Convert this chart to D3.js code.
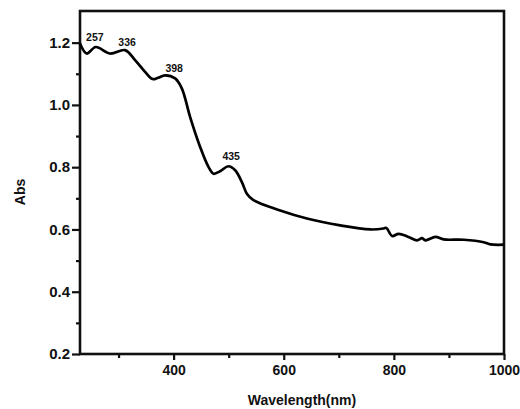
<!DOCTYPE html>
<html><head><meta charset="utf-8">
<script src="https://cdn.jsdelivr.net/npm/d3@7"></script>
<style>body{margin:0;background:#fff}svg{display:block}text{font-family:"Liberation Sans",Arial,sans-serif;font-weight:bold;fill:#111}</style>
</head><body>
<svg id="c" width="520" height="409"></svg>
<script>
const wavelength = [230,242.2,258.5,284.5,311.8,330,348.2,361.5,371.8,384.5,402.7,414.9,430,448.2,463.3,472.4,484.5,499.6,511.8,524,533,545,593.6,642.2,702.7,757.3,781.4,786.4,796.7,808.7,826.4,842.1,851.3,857.3,875.5,890.5,926.9,963.3,975.5,1000];
const absorbance = [1.197,1.165,1.186,1.165,1.176,1.144,1.106,1.083,1.087,1.095,1.085,1.053,0.961,0.865,0.801,0.779,0.787,0.803,0.790,0.752,0.715,0.694,0.661,0.635,0.613,0.600,0.603,0.605,0.579,0.586,0.576,0.565,0.572,0.565,0.576,0.568,0.567,0.559,0.552,0.551];
const peakLabels = ["257","336","398","435"];
const peakLabelX = [257,315.5,401,504.5];
const peakLabelY = [1.205,1.189,1.105,0.822];
const xTicks = [400,600,800,1000];
const xMinor = [300,500,700,900];
const yTicks = [0.2,0.4,0.6,0.8,1.0,1.2];
const yMinor = [0.3,0.5,0.7,0.9,1.1];

const svg = d3.select("#c");
const L=80,R=504,T=11,B=354;
const x = d3.scaleLinear().domain([230,1000]).range([L,R]);
const y = d3.scaleLinear().domain([0.2,1.3016]).range([B,T]);

const xAx = svg.append("g").attr("transform",`translate(0,${B})`)
  .call(d3.axisBottom(x).tickValues(xTicks).tickFormat(d3.format("d")).tickSize(6).tickPadding(5).tickSizeOuter(0));
const xAxMin = svg.append("g").attr("transform",`translate(0,${B})`)
  .call(d3.axisBottom(x).tickValues(xMinor).tickFormat("").tickSize(4).tickSizeOuter(0));
const yAx = svg.append("g").attr("transform",`translate(${L},0)`)
  .call(d3.axisLeft(y).tickValues(yTicks).tickFormat(d3.format(".1f")).tickSize(8).tickPadding(2).tickSizeOuter(0));
const yAxMin = svg.append("g").attr("transform",`translate(${L},0)`)
  .call(d3.axisLeft(y).tickValues(yMinor).tickFormat("").tickSize(4).tickSizeOuter(0));
[xAx,xAxMin,yAx,yAxMin].forEach(g=>{
  g.selectAll(".domain").remove();
  g.selectAll(".tick line").attr("stroke","#111").attr("stroke-width",2.2);
  g.selectAll("text").attr("font-size",14).attr("font-family","Liberation Sans, Arial, sans-serif").attr("font-weight","bold").attr("fill","#111");
});
yAx.selectAll("text").attr("font-size",15);

// plot frame (axes + top/right border)
svg.append("rect").attr("x",L).attr("y",T).attr("width",R-L).attr("height",B-T)
  .attr("fill","none").attr("stroke","#111").attr("stroke-width",2.6);

const line = d3.line().x((d,i)=>x(wavelength[i])).y(d=>y(d)).curve(d3.curveCatmullRom.alpha(0.5));
svg.append("path").datum(absorbance).attr("d",line).attr("fill","none").attr("stroke","#000").attr("stroke-width",2.7).attr("stroke-linejoin","round");

svg.selectAll(".pk").data(peakLabels).enter().append("text")
  .attr("x",(d,i)=>x(peakLabelX[i])).attr("y",(d,i)=>y(peakLabelY[i]))
  .attr("text-anchor","middle").attr("font-size",10.5).text(d=>d);

svg.append("text").attr("x",302).attr("y",405).attr("text-anchor","middle").attr("font-size",14).text("Wavelength(nm)");
svg.append("text").attr("transform","translate(25,192) rotate(-90)").attr("text-anchor","middle").attr("font-size",14).text("Abs");
</script>
</body></html>
